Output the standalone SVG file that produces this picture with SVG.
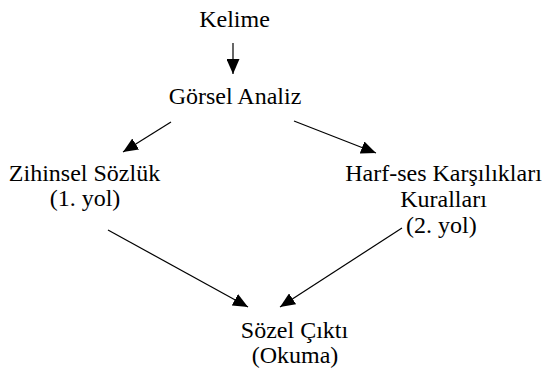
<svg xmlns="http://www.w3.org/2000/svg" width="545" height="371" viewBox="0 0 545 371">
<style>
text{font-family:"Liberation Serif","Times New Roman",serif;font-size:24px;fill:#000}
.c{text-anchor:middle}
.e line{stroke:#000;stroke-width:1.2;marker-end:url(#ah)}
</style>
<defs>
<marker id="ah" markerUnits="userSpaceOnUse" markerWidth="15" markerHeight="13" refX="15" refY="6.5" orient="auto">
<path d="M0,0 L15,6.5 L0,13 Z" fill="#000"/>
</marker>
</defs>
<rect width="545" height="371" fill="#fff"/>
<g id="kelime"><text class="c" x="234.5" y="27">Kelime</text></g>
<g id="gorsel"><text class="c" x="235" y="104">Görsel Analiz</text></g>
<g id="zihinsel"><text class="c" x="84.5" y="181">Zihinsel Sözlük</text><text class="c" x="85" y="206">(1. yol)</text></g>
<g id="harf"><text class="c" x="443.5" y="181">Harf-ses Karşılıkları</text><text class="c" x="443.5" y="207">Kuralları</text><text x="406" y="233">(2. yol)</text></g>
<g id="sozel"><text class="c" x="294.5" y="338">Sözel Çıktı</text><text class="c" x="295" y="363">(Okuma)</text></g>
<g id="connectors" class="e">
<line x1="233" y1="43" x2="233" y2="74"/>
<line x1="171" y1="122" x2="123" y2="152"/>
<line x1="294" y1="121" x2="376" y2="153"/>
<line x1="108" y1="230" x2="248" y2="307"/>
<line x1="402" y1="228" x2="280" y2="307"/>
</g>
</svg>
